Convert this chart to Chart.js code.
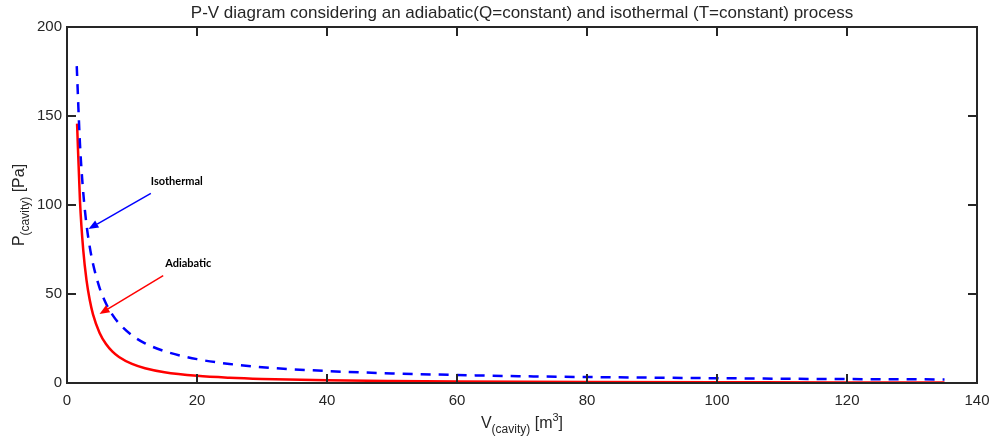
<!DOCTYPE html>
<html>
<head>
<meta charset="utf-8">
<script src="https://cdn.jsdelivr.net/npm/chart.js@4.4.1/dist/chart.umd.min.js"></script>
<style>
  html, body { margin: 0; padding: 0; background: #ffffff; }
  #wrap { width: 994px; height: 446px; }
</style>
</head>
<body>
<div id="wrap"><canvas id="pv" width="994" height="446"></canvas></div>
<script>
// Cavity volume samples [m^3]
const volumeIso = [1.5, 2, 2.5, 3, 3.5, 4, 5, 6, 7, 8, 10, 12, 15, 20, 25, 30, 40, 50, 60, 70, 80, 90, 100, 110, 120, 135];
// Isothermal pressure [Pa]
const pressureIso = [178, 134, 107, 89, 76.5, 67, 53.6, 44.7, 38.3, 33.5, 26.8, 22.3, 17.9, 13.4, 10.7, 8.9, 6.7, 5.4, 4.5, 3.8, 3.35, 3.0, 2.7, 2.4, 2.2, 2.0];

const volumeAdi = [1.55, 2, 2.5, 3, 3.5, 4, 5, 6, 7, 8, 10, 12, 15, 20, 25, 30, 40, 50, 60, 80, 100, 120, 135];
// Adiabatic pressure [Pa]
const pressureAdi = [145.7, 102, 74.6, 57.8, 46.6, 38.6, 28.3, 21.9, 17.6, 14.6, 10.7, 8.3, 6.07, 4.06, 2.97, 2.3, 1.54, 1.13, 0.87, 0.58, 0.43, 0.33, 0.28];

const xTicks = [0, 20, 40, 60, 80, 100, 120, 140];
const yTicks = [0, 50, 100, 150, 200];

const seriesNames = ['Adiabatic', 'Isothermal'];
const chartTitle = 'P-V diagram considering an adiabatic(Q=constant) and isothermal (T=constant) process';

const FONT = '"Liberation Sans", Arial, Helvetica, sans-serif';
const INK = '#262626';

const toPoints = (xs, ys) => xs.map((x, i) => ({ x: x, y: ys[i] }));

// Frame, inward tick marks, titles and callout arrows
const decorations = {
  id: 'decorations',
  afterDatasetsDraw(chart) {
    const { ctx, chartArea: a, scales } = chart;
    const xs = scales.x, ys = scales.y;
    const tl = 9;
    ctx.save();
    ctx.strokeStyle = INK;
    ctx.lineWidth = 2;
    ctx.beginPath();
    xTicks.forEach(v => {
      const px = Math.round(xs.getPixelForValue(v));
      if (v === xTicks[0] || v === xTicks[xTicks.length - 1]) return;
      ctx.moveTo(px, a.bottom); ctx.lineTo(px, a.bottom - tl);
      ctx.moveTo(px, a.top); ctx.lineTo(px, a.top + tl);
    });
    yTicks.forEach(v => {
      const py = Math.round(ys.getPixelForValue(v));
      if (v === yTicks[0] || v === yTicks[yTicks.length - 1]) return;
      ctx.moveTo(a.left, py); ctx.lineTo(a.left + tl, py);
      ctx.moveTo(a.right, py); ctx.lineTo(a.right - tl, py);
    });
    ctx.stroke();
    ctx.strokeRect(Math.round(a.left), Math.round(a.top), Math.round(a.right - a.left), Math.round(a.bottom - a.top));
    ctx.restore();

    // callouts
    const callouts = chart.options.plugins.decorations.callouts;
    callouts.forEach(c => {
      const x0 = xs.getPixelForValue(c.from[0]), y0 = ys.getPixelForValue(c.from[1]);
      const x1 = xs.getPixelForValue(c.to[0]), y1 = ys.getPixelForValue(c.to[1]);
      const ang = Math.atan2(y1 - y0, x1 - x0);
      const hl = 10, hw = 4;
      const bx = x1 - hl * Math.cos(ang), by = y1 - hl * Math.sin(ang);
      ctx.save();
      ctx.strokeStyle = c.color;
      ctx.fillStyle = c.color;
      ctx.lineWidth = 1.5;
      ctx.beginPath();
      ctx.moveTo(x0, y0); ctx.lineTo(bx, by);
      ctx.stroke();
      ctx.beginPath();
      ctx.moveTo(x1, y1);
      ctx.lineTo(bx + hw * Math.sin(ang), by - hw * Math.cos(ang));
      ctx.lineTo(bx - hw * Math.sin(ang), by + hw * Math.cos(ang));
      ctx.closePath();
      ctx.fill();
      ctx.fillStyle = '#000000';
      ctx.font = 'bold 11px Lato, "Open Sans", sans-serif';
      ctx.textBaseline = 'middle';
      ctx.textAlign = 'left';
      ctx.fillText(c.text, xs.getPixelForValue(c.label[0]), ys.getPixelForValue(c.label[1]));
      ctx.restore();
    });
  },
  afterDraw(chart) {
    const { ctx, chartArea: a } = chart;
    const cx = (a.left + a.right) / 2;
    ctx.save();
    ctx.fillStyle = INK;

    // title
    ctx.font = '17px ' + FONT;
    ctx.textAlign = 'center';
    ctx.textBaseline = 'middle';
    ctx.fillText(chartTitle, cx, 13);

    // x axis title: V_(cavity) [m^3]
    const parts = [
      { t: 'V', f: '16px ', dy: 0 },
      { t: '(cavity)', f: '12px ', dy: 5 },
      { t: ' [m', f: '16px ', dy: 0 },
      { t: '3', f: '11px ', dy: -7 },
      { t: ']', f: '16px ', dy: 0 }
    ];
    ctx.textAlign = 'left';
    ctx.textBaseline = 'alphabetic';
    let w = 0;
    parts.forEach(p => { ctx.font = p.f + FONT; p.w = ctx.measureText(p.t).width; w += p.w; });
    let x = cx - w / 2;
    parts.forEach(p => { ctx.font = p.f + FONT; ctx.fillText(p.t, x, 428 + p.dy); x += p.w; });

    // y axis title: P_(cavity) [Pa]
    const yparts = [
      { t: 'P', f: '16px ', dy: 0 },
      { t: '(cavity)', f: '12px ', dy: 5 },
      { t: ' [Pa]', f: '16px ', dy: 0 }
    ];
    w = 0;
    yparts.forEach(p => { ctx.font = p.f + FONT; p.w = ctx.measureText(p.t).width; w += p.w; });
    ctx.translate(24, (a.top + a.bottom) / 2);
    ctx.rotate(-Math.PI / 2);
    x = -w / 2;
    yparts.forEach(p => { ctx.font = p.f + FONT; ctx.fillText(p.t, x, p.dy); x += p.w; });
    ctx.restore();
  }
};

new Chart(document.getElementById('pv'), {
  type: 'line',
  data: {
    datasets: [
      {
        label: seriesNames[1],
        data: toPoints(volumeIso, pressureIso),
        borderColor: '#0000ff',
        borderWidth: 2.5,
        borderDash: [10, 8],
        pointRadius: 0,
        cubicInterpolationMode: 'monotone',
        fill: false
      },
      {
        label: seriesNames[0],
        data: toPoints(volumeAdi, pressureAdi),
        borderColor: '#ff0000',
        borderWidth: 2.5,
        pointRadius: 0,
        cubicInterpolationMode: 'monotone',
        fill: false
      }
    ]
  },
  options: {
    responsive: false,
    devicePixelRatio: 1,
    animation: false,
    layout: { padding: { top: 27, right: 17, left: 0, bottom: 0 } },
    plugins: {
      legend: { display: false },
      tooltip: { enabled: false },
      title: { display: false },
      decorations: {
        callouts: [
          { text: seriesNames[1], color: '#0000ff', from: [12.9, 106.5], to: [3.3, 86.5], label: [12.9, 113] },
          { text: seriesNames[0], color: '#ff0000', from: [14.8, 60.3], to: [5.0, 38.8], label: [15.1, 67] }
        ]
      }
    },
    scales: {
      x: {
        type: 'linear',
        min: 0, max: 140,
        afterBuildTicks: s => { s.ticks = xTicks.map(v => ({ value: v })); },
        afterFit: s => { s.height = 63; s.paddingLeft = 0; s.paddingRight = 0; },
        grid: { display: false, drawTicks: false },
        border: { display: false },
        ticks: { font: { family: FONT, size: 15 }, color: INK, padding: 9, maxRotation: 0 }
      },
      y: {
        type: 'linear',
        min: 0, max: 200,
        afterBuildTicks: s => { s.ticks = yTicks.map(v => ({ value: v })); },
        afterFit: s => { s.width = 67; s.paddingTop = 0; s.paddingBottom = 0; },
        grid: { display: false, drawTicks: false },
        border: { display: false },
        ticks: { font: { family: FONT, size: 15 }, color: INK, padding: 5 }
      }
    }
  },
  plugins: [decorations]
});
</script>
</body>
</html>
